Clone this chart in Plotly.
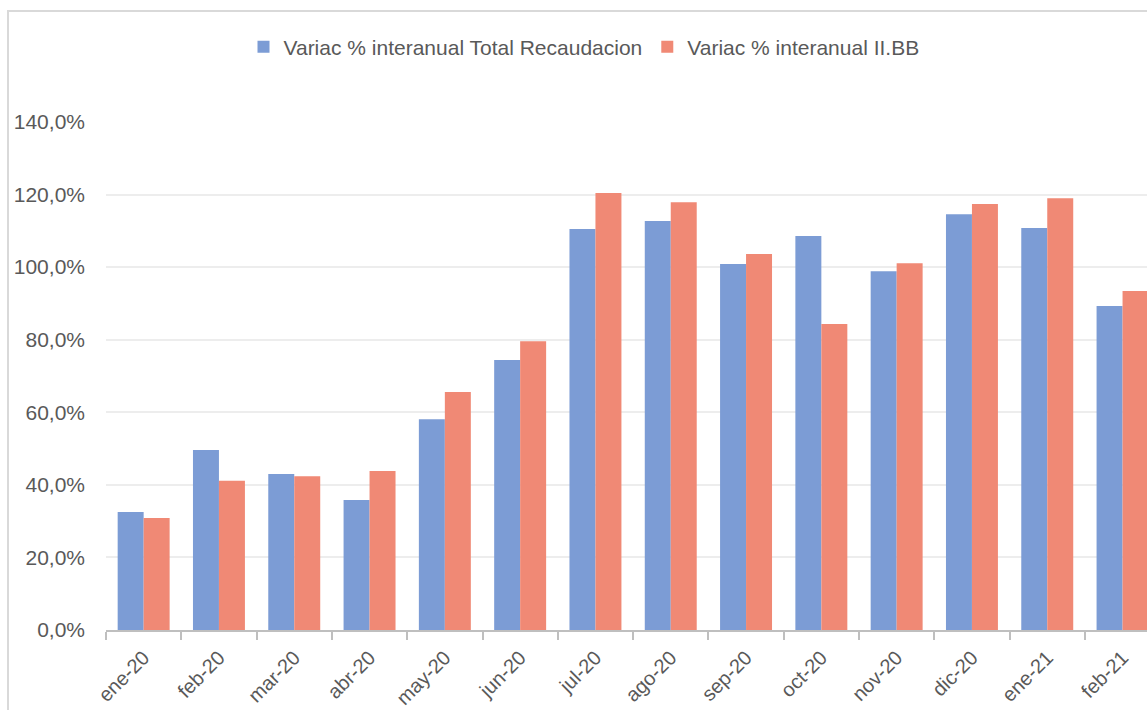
import plotly.graph_objects as go

months = ["ene-20", "feb-20", "mar-20", "abr-20", "may-20", "jun-20", "jul-20",
          "ago-20", "sep-20", "oct-20", "nov-20", "dic-20", "ene-21", "feb-21"]
total_recaudacion = [32.5, 49.6, 43.0, 35.8, 58.1, 74.4, 110.5,
                     112.7, 100.9, 108.6, 98.9, 114.6, 110.8, 89.3]
ingresos_brutos = [30.9, 41.1, 42.4, 43.8, 65.6, 79.6, 120.4,
                   117.9, 103.6, 84.3, 101.1, 117.4, 119.0, 93.4]

W, H = 1147, 710
left, right, top, bottom = 106, 1147, 122, 630


def px_x(x):
    return (x - left) / (right - left)


def px_y(y):
    return (bottom - y) / (bottom - top)


fig = go.Figure()
fig.add_bar(x=months, y=total_recaudacion, name="Variac % interanual Total Recaudacion",
            marker=dict(color="#7C9CD5", line=dict(width=0)))
fig.add_bar(x=months, y=ingresos_brutos, name="Variac % interanual II.BB",
            marker=dict(color="#F08975", line=dict(width=0)))

# outer chart border (cropped on the right and bottom)
fig.add_shape(type="rect", xref="paper", yref="paper",
              x0=px_x(8), x1=px_x(1175), y0=px_y(730), y1=px_y(11),
              line=dict(color="#D9D9D9", width=2), layer="below")

fig.update_layout(
    width=W, height=H,
    margin=dict(l=left, r=W - right, t=top, b=H - bottom, autoexpand=False),
    paper_bgcolor="white", plot_bgcolor="white",
    barmode="group", bargap=0.31, bargroupgap=0,
    separators=",.",
    font=dict(family="Liberation Sans, Arial, sans-serif", size=21, color="#595959"),
    legend=dict(orientation="h", x=px_x(584), y=px_y(47), xanchor="center", yanchor="middle",
                font=dict(size=21, color="#595959"), itemwidth=30, traceorder="normal"),
    showlegend=True,
)
fig.update_xaxes(
    range=[-0.5, (right - left) / 75.3 - 0.5], automargin=False,
    tickangle=-45, tickson="boundaries", ticks="outside", ticklen=8, tickwidth=2,
    tickcolor="#BFBFBF", showline=True, linecolor="#BFBFBF", linewidth=2,
    showgrid=False, tickfont=dict(size=20, color="#595959"), ticklabelstandoff=6,
)
fig.update_yaxes(
    range=[0, 140], dtick=20, tickformat=".1f", ticksuffix="%", automargin=False,
    showgrid=True, gridcolor="#EDEDED", gridwidth=2, zeroline=False,
    showline=False, ticks="", ticklabelstandoff=20,
    tickfont=dict(size=21, color="#595959"),
)

fig.write_html("out.html", config={"displayModeBar": False},
               post_script="document.body.style.margin='0';")
